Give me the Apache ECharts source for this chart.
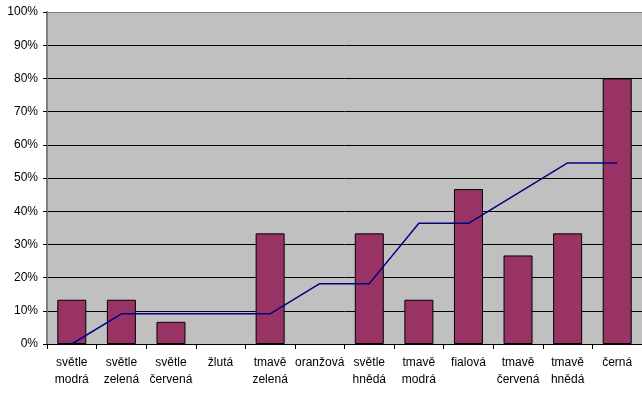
<!DOCTYPE html>
<html><head><meta charset="utf-8">
<script src="https://cdn.jsdelivr.net/npm/echarts@6/dist/echarts.min.js"></script>
<style>html,body{margin:0;padding:0;background:#fff}#c{width:642px;height:394px}</style>
</head><body><div id="c"></div>
<script>
const categories = ['světle\nmodrá','světle\nzelená','světle\nčervená','žlutá','tmavě\nzelená','oranžová','světle\nhnědá','tmavě\nmodrá','fialová','tmavě\nčervená','tmavě\nhnědá','černá'];
const barValues = [0.1333,0.1333,0.0667,0,0.3333,0,0.3333,0.1333,0.4667,0.2667,0.3333,0.80];
const lineValues = [0,0.0909,0.0909,0.0909,0.0909,0.1818,0.1818,0.3636,0.3636,0.4545,0.5455,0.5455];
const splitColors = ['#000','#000','#000','#000','#000','#000','#000','#000','#000','#000','#808080'];
const chart = echarts.init(document.getElementById('c'));
const font = 'Liberation Sans, Arial, sans-serif';
chart.setOption({
  animation:false,
  grid:{left:47,right:0,top:12,bottom:50,show:true,backgroundColor:'#C0C0C0',borderWidth:0},
  xAxis:{type:'category',data:categories,boundaryGap:true,
    axisLine:{show:true,lineStyle:{color:'#000',width:1}},
    axisTick:{show:true,length:5,alignWithLabel:false,lineStyle:{color:'#000'}},
    axisLabel:{interval:0,color:'#000',fontFamily:font,fontSize:12,lineHeight:17,margin:10}},
  yAxis:{type:'value',min:0,max:1,interval:0.1,
    axisLine:{show:true,lineStyle:{color:'#808080',width:2}},
    axisTick:{show:true,length:4,lineStyle:{color:'#000'}},
    splitLine:{show:true,lineStyle:{color:splitColors,width:1}},
    axisLabel:{color:'#000',fontFamily:font,fontSize:12,margin:9,formatter:v=>Math.round(v*100)+'%'}},
  series:[
    {type:'bar',data:barValues.map(v=>v===0?{value:v,itemStyle:{borderWidth:0}}:v),barWidth:29,itemStyle:{color:'#993366',borderColor:'#000',borderWidth:1}},
    {type:'line',data:lineValues,symbol:'none',lineStyle:{color:'#000080',width:1.5}}
  ]
});
</script></body></html>
